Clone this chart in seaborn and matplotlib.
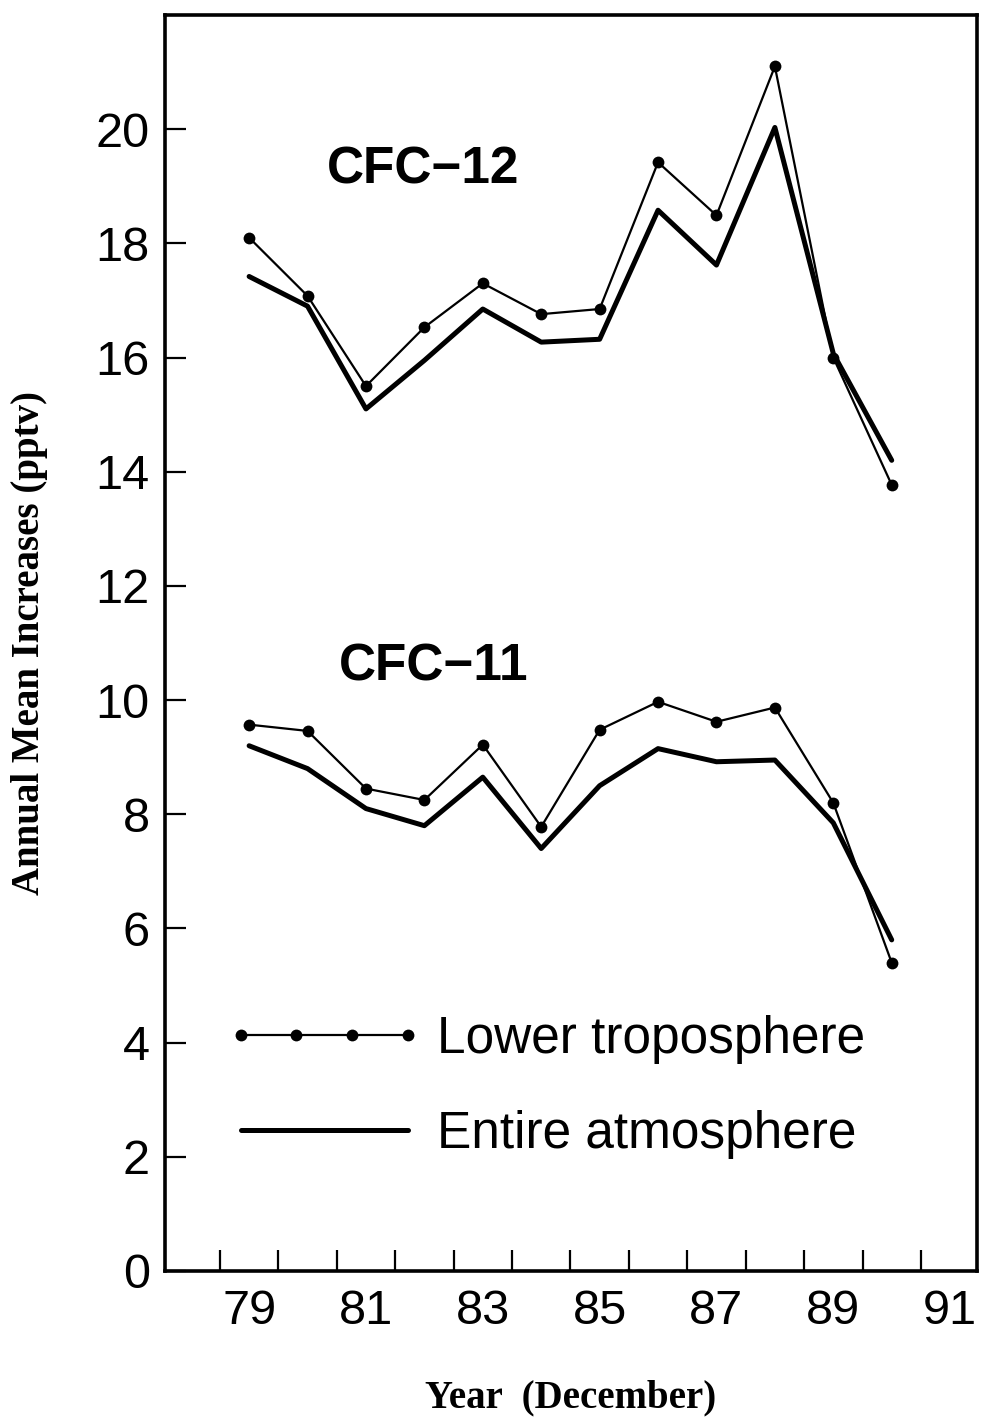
import numpy as np
import pandas as pd
import matplotlib
matplotlib.use("Agg")
import matplotlib.pyplot as plt
from matplotlib.lines import Line2D
import seaborn as sns

# ---- data ----
years = [79, 80, 81, 82, 83, 84, 85, 86, 87, 88, 89, 90]
cfc12_lower = [18.10, 17.08, 15.50, 16.53, 17.30, 16.76, 16.85, 19.42, 18.49, 21.10, 16.00, 13.77]
cfc12_entire = [17.42, 16.90, 15.10, 15.95, 16.85, 16.27, 16.32, 18.58, 17.62, 20.03, 16.07, 14.20]
cfc11_lower = [9.57, 9.46, 8.45, 8.25, 9.22, 7.78, 9.48, 9.97, 9.62, 9.87, 8.20, 5.40]
cfc11_entire = [9.20, 8.80, 8.10, 7.80, 8.65, 7.40, 8.50, 9.15, 8.92, 8.95, 7.85, 5.80]
xtick_labels = ["79", "81", "83", "85", "87", "89", "91"]
xtick_pos = [79, 81, 83, 85, 87, 89, 91]
yticks = [0, 2, 4, 6, 8, 10, 12, 14, 16, 18, 20]
legend_labels = ["Lower troposphere", "Entire atmosphere"]

df = pd.concat([
    pd.DataFrame({"year": years, "value": cfc12_lower, "series": "CFC-12 lower"}),
    pd.DataFrame({"year": years, "value": cfc12_entire, "series": "CFC-12 entire"}),
    pd.DataFrame({"year": years, "value": cfc11_lower, "series": "CFC-11 lower"}),
    pd.DataFrame({"year": years, "value": cfc11_entire, "series": "CFC-11 entire"}),
])

sns.set_style("ticks")
plt.rcParams["font.family"] = ["Liberation Sans", "DejaVu Sans"]
for key in ["text.color", "axes.labelcolor", "xtick.color", "ytick.color",
            "axes.edgecolor"]:
    plt.rcParams[key] = "black"

fig = plt.figure(figsize=(9.84, 14.2), dpi=100)
ax = fig.add_axes([165 / 984, 1 - 1271 / 1420, 812 / 984, 1256 / 1420])

lower_kw = dict(color="black", linewidth=1.6, marker="o", markersize=8.5,
                markeredgewidth=0, legend=False)
entire_kw = dict(color="black", linewidth=3.6, legend=False)

for name, kw in [("CFC-12 lower", lower_kw), ("CFC-12 entire", entire_kw),
                 ("CFC-11 lower", lower_kw), ("CFC-11 entire", entire_kw)]:
    sub = df[df["series"] == name]
    sns.lineplot(data=sub, x="year", y="value", ax=ax, **kw)

ax.set_xlim(77.56, 91.46)
ax.set_ylim(0, 22)

ax.set_yticks(yticks)
ax.set_yticklabels([str(v) for v in yticks])
ax.set_xticks(xtick_pos)
ax.set_xticklabels(xtick_labels)
ax.set_xticks(np.arange(78.5, 91.0, 1.0), minor=True)

ax.tick_params(axis="x", which="major", length=0, pad=13, labelsize=35)
ax.tick_params(axis="x", which="minor", direction="in", length=15, width=1.6)
ax.tick_params(axis="y", which="major", direction="in", length=15, width=1.6,
               pad=11, labelsize=35)

for sp in ax.spines.values():
    sp.set_visible(True)
    sp.set_linewidth(2.6)
    sp.set_color("black")

ax.set_xlabel("Year  (December)", family=["Liberation Serif"], fontweight="bold",
              fontsize=28, labelpad=33)
ax.set_ylabel("Annual Mean Increases (pptv)", family=["Liberation Serif"],
              fontweight="bold", fontsize=28, labelpad=34)

ax.text(81.98, 19.28, "CFC\u221212", fontsize=37, fontweight="bold",
        ha="center", va="center")
ax.text(82.15, 10.58, "CFC\u221211", fontsize=37, fontweight="bold",
        ha="center", va="center")

handles = [
    Line2D([], [], color="black", linewidth=1.6, marker="o", markersize=8.5,
           markeredgewidth=0),
    Line2D([], [], color="black", linewidth=3.6),
]
leg = ax.legend(handles, legend_labels, loc="upper left",
                bbox_to_anchor=(0.074, 0.204), frameon=False, fontsize=37,
                numpoints=4, handlelength=3.85, handletextpad=0.27,
                labelspacing=0.9, borderpad=0, borderaxespad=0)

fig.savefig("out.png", dpi=100)
